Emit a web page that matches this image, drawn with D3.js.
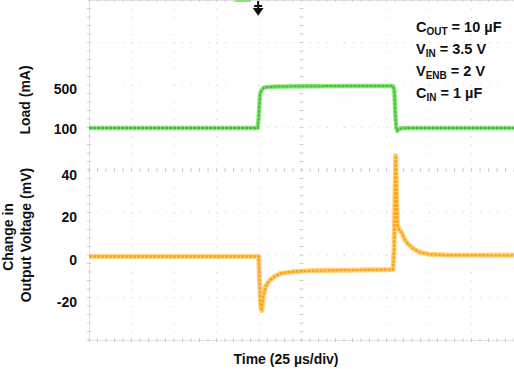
<!DOCTYPE html>
<html>
<head>
<meta charset="utf-8">
<script src="https://cdn.jsdelivr.net/npm/d3@7"></script>
<style>
  body { margin: 0; background: #fff; }
  text { font-family: "Liberation Sans", Arial, sans-serif; font-weight: bold; fill: #111; }
</style>
</head>
<body>
<div id="graph"></div>
<script>
"use strict";

var width = 514,
    height = 369;

// time in µs (25 µs/div), load in mA
let loadT = [0, 99.2, 99.8, 100.6, 101.6, 103, 110, 130, 150, 178.8, 179.6, 180.3, 180.8, 181.4, 182.2, 184, 188, 250];
let loadMA = [100, 100, 200, 440, 480, 505, 515, 518, 520, 520, 480, 200, 95, 72, 90, 98, 100, 100];

// change in output voltage, mV
let voutT = [0, 99.8, 100.3, 101, 101.6, 102.5, 104, 106, 109, 113, 120, 130, 150, 178.8, 179.5, 180, 180.4, 180.9, 181.4, 182.5, 184, 186, 188, 191, 195, 200, 210, 250];
let voutMV = [1, 1, -10, -23, -24.5, -18, -13, -10.5, -8.5, -7, -6.2, -5.8, -5.5, -5.2, 5, 30, 48.5, 30, 16, 13.5, 12, 8.5, 6.5, 4.5, 2.8, 2, 1.6, 1.5];

let loadTicks = [100, 500];
let voutTicks = [40, 20, 0, -20];

let notes = [
    ["C", "OUT", " = 10 µF"],
    ["V", "IN", " = 3.5 V"],
    ["V", "ENB", " = 2 V"],
    ["C", "IN", " = 1 µF"]
];

let plotL = 89, plotR = 514, plotT = 0, plotB = 340;

let svg = d3.select("#graph")
    .append("svg")
    .attr("width", width)
    .attr("height", height);

let x = d3.scaleLinear().domain([0, 250]).range([plotL, plotR]);
let div = d3.scaleLinear().domain([-4, 4]).range([plotB, plotT]);
let yLoad = d3.scaleLinear().domain([100, 500]).range([128, 88]);
let yV = d3.scaleLinear().domain([0, 40]).range([258.5, 173.5]);

// grid
let grid = svg.append("g").attr("id", "grid");
grid.selectAll(".vg")
    .data(d3.range(25, 250, 25))
    .enter()
    .append("line")
    .attr("x1", d => x(d)).attr("x2", d => x(d))
    .attr("y1", plotT).attr("y2", plotB)
    .attr("stroke", "#d4d4d4")
    .attr("stroke-dasharray", "1,7.5");
grid.selectAll(".hg")
    .data(d3.range(-3, 4))
    .enter()
    .append("line")
    .attr("x1", plotL).attr("x2", plotR)
    .attr("y1", d => div(d)).attr("y2", d => div(d))
    .attr("stroke", "#d4d4d4")
    .attr("stroke-dasharray", "1,7.5");

grid.append("rect")
    .attr("x", plotL + 0.5).attr("y", plotT + 0.5)
    .attr("width", plotR - plotL).attr("height", plotB - plotT)
    .attr("fill", "none")
    .attr("stroke", "#e2e2e2");

// minor ticks on center lines and edges
let minorX = d3.range(0, 251, 5);
let minorY = d3.range(-4, 4.01, 0.2);
[div(0), plotT, plotB].forEach(function (yy) {
    grid.selectAll(null)
        .data(minorX)
        .enter()
        .append("line")
        .attr("x1", d => x(d)).attr("x2", d => x(d))
        .attr("y1", yy - 2).attr("y2", yy + 2)
        .attr("stroke", "#cfcfcf");
});
[x(125), plotL].forEach(function (xx) {
    grid.selectAll(null)
        .data(minorY)
        .enter()
        .append("line")
        .attr("x1", xx - 2).attr("x2", xx + 2)
        .attr("y1", d => div(d)).attr("y2", d => div(d))
        .attr("stroke", "#cfcfcf");
});

// traces
let loadLine = d3.line()
    .x((d, i) => x(loadT[i]))
    .y(d => yLoad(d));
let voutLine = d3.line()
    .x((d, i) => x(voutT[i]))
    .y(d => yV(d));

let traces = svg.append("g").attr("id", "traces");
traces.append("path")
    .attr("d", loadLine(loadMA))
    .attr("fill", "none")
    .attr("stroke", "#8fe07f")
    .attr("stroke-width", 4.5)
    .attr("stroke-linejoin", "round");
traces.append("path")
    .attr("d", loadLine(loadMA))
    .attr("fill", "none")
    .attr("stroke", "#3cc332")
    .attr("stroke-width", 2)
    .attr("stroke-dasharray", "3,1");
traces.append("path")
    .attr("d", voutLine(voutMV))
    .attr("fill", "none")
    .attr("stroke", "#fdcf78")
    .attr("stroke-width", 5)
    .attr("stroke-linejoin", "round");
traces.append("path")
    .attr("d", voutLine(voutMV))
    .attr("fill", "none")
    .attr("stroke", "#f7a51c")
    .attr("stroke-width", 2.2)
    .attr("stroke-dasharray", "3,1");

// trigger markers at the top
svg.append("rect")
    .attr("x", x(86)).attr("y", 0)
    .attr("width", x(95) - x(86)).attr("height", 2)
    .attr("fill", "#8fe07f");
let tx = x(99.5);
svg.append("path")
    .attr("d", "M" + tx + ",1 V10 M" + (tx - 4) + ",6 H" + (tx + 4) +
        " M" + (tx - 3.5) + ",9 L" + tx + ",14 L" + (tx + 3.5) + ",9 Z")
    .attr("stroke", "#111")
    .attr("stroke-width", 2)
    .attr("fill", "#111");

// tick labels
svg.selectAll(".lt")
    .data(loadTicks)
    .enter()
    .append("text")
    .attr("x", 77)
    .attr("y", d => yLoad(d) + 1)
    .attr("dy", "0.35em")
    .attr("text-anchor", "end")
    .style("font-size", "14px")
    .text(d => d);
svg.selectAll(".vt")
    .data(voutTicks)
    .enter()
    .append("text")
    .attr("x", 77)
    .attr("y", d => yV(d) + 1.5)
    .attr("dy", "0.35em")
    .attr("text-anchor", "end")
    .style("font-size", "14px")
    .text(d => d);

// axis titles
svg.append("text")
    .attr("transform", "translate(30,100) rotate(-90)")
    .attr("text-anchor", "middle")
    .style("font-size", "14px")
    .text("Load (mA)");
svg.append("text")
    .attr("transform", "translate(13,237) rotate(-90)")
    .attr("text-anchor", "middle")
    .style("font-size", "14px")
    .text("Change in");
svg.append("text")
    .attr("transform", "translate(31,235) rotate(-90)")
    .attr("text-anchor", "middle")
    .style("font-size", "14px")
    .text("Output Voltage (mV)");
svg.append("text")
    .attr("x", 286)
    .attr("y", 364)
    .attr("text-anchor", "middle")
    .style("font-size", "14px")
    .text("Time (25 µs/div)");

// conditions
let nt = svg.selectAll(".note")
    .data(notes)
    .enter()
    .append("text")
    .attr("x", 416)
    .attr("y", (d, i) => 32 + i * 22)
    .style("font-size", "14.5px");
nt.append("tspan").text(d => d[0]);
nt.append("tspan").attr("dy", 3).style("font-size", "10px").text(d => d[1]);
nt.append("tspan").attr("dy", -3).text(d => d[2]);
</script>
</body>
</html>
